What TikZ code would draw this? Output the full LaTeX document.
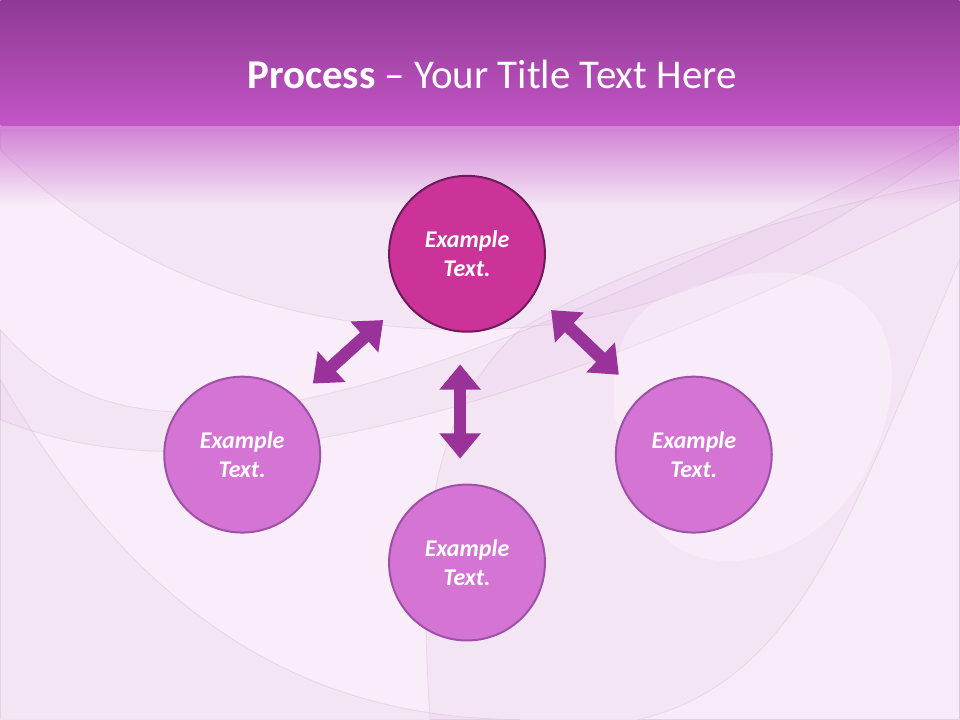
\documentclass[tikz,border=0pt]{standalone}
\usepackage{fontspec}
\setmainfont{Carlito}
\usepackage{tikz}
\usetikzlibrary{arrows.meta,positioning,fadings}
\definecolor{headtop}{HTML}{8E3A94}
\definecolor{headbot}{HTML}{C455C6}
\definecolor{paper}{HTML}{F8EDF8}
\definecolor{swoop}{HTML}{D9A8DC}
\definecolor{hubfill}{HTML}{CC3399}
\definecolor{hubline}{HTML}{6E1A5C}
\definecolor{stepfill}{HTML}{D475D4}
\definecolor{stepline}{HTML}{A050A8}
\definecolor{arrowcol}{HTML}{993399}
\tikzfading[name=fade down,top color=transparent!30,bottom color=transparent!100]
\tikzset{>={Triangle[width=30pt,length=19pt]}}
\tikzset{hub node/.style={circle,fill=hubfill,draw=hubline,line width=1.5pt,minimum size=117pt,inner sep=0pt,
            text=white,font=\fontsize{18}{22}\selectfont\bfseries\itshape,align=center},
         step node/.style={hub node,fill=stepfill,draw=stepline},
         dblarrow/.style={draw=arrowcol,line width=9.5pt,<->},
         swoopband/.style={fill=swoop,fill opacity=0.1,draw=swoop!70!gray,draw opacity=0.25,line width=0.6pt}
            }

\begin{document}
\begin{tikzpicture}[x=0.75pt,y=-0.75pt]

    % background
    \fill[paper] (0,0) rectangle (960,720);
    \path[swoopband] (0,330) .. controls (120,470) and (330,450) .. (960,130) -- (960,200) .. controls (400,480) and (150,480) .. (0,420) -- cycle;
    \path[swoopband] (0,380) .. controls (150,640) and (330,720) .. (520,720) -- (0,720) -- cycle;
    \path[swoopband,fill=white,fill opacity=0.35] (960,260) .. controls (850,520) and (800,680) .. (640,720) -- (960,720) -- cycle;
    \path[swoopband] (430,720) .. controls (420,560) and (420,420) .. (520,330) .. controls (650,250) and (850,200) .. (960,180) -- (960,720) -- cycle;
    \path[swoopband] (0,150) .. controls (100,250) and (250,330) .. (470,330) .. controls (650,330) and (800,250) .. (960,140) -- (960,130) -- (0,130) -- cycle;
    \path[fill=white,fill opacity=0.3] (660,300) .. controls (820,230) and (930,300) .. (880,440) .. controls (840,560) and (700,600) .. (650,520) .. controls (600,430) and (600,330) .. (660,300) -- cycle;

    % header
    \shade[top color=headtop,bottom color=headbot] (0,0) rectangle (960,126);
    \fill[headbot,path fading=fade down] (0,126) rectangle (960,205);
    \node[text=white,font=\fontsize{30.7}{36}\selectfont] (title) at (492,75) {\textbf{Process} -- Your Title Text Here};

    % circles
    \node[hub node] (top) at (467,254) {Example\\Text.};
    \node[step node] (left) at (242,455) {Example\\Text.};
    \node[step node] (right) at (694,455) {Example\\Text.};
    \node[step node] (bottom) at (467,563) {Example\\Text.};

    \draw[dblarrow,shorten <=21pt,shorten >=16pt] (top.217) -- (left.46);
    \draw[dblarrow,shorten <=17pt,shorten >=23pt] (top.329) -- (right.132);
    \draw[dblarrow,shorten <=24pt,shorten >=19pt] (top.265) -- (bottom.95);

\end{tikzpicture}
\end{document}
